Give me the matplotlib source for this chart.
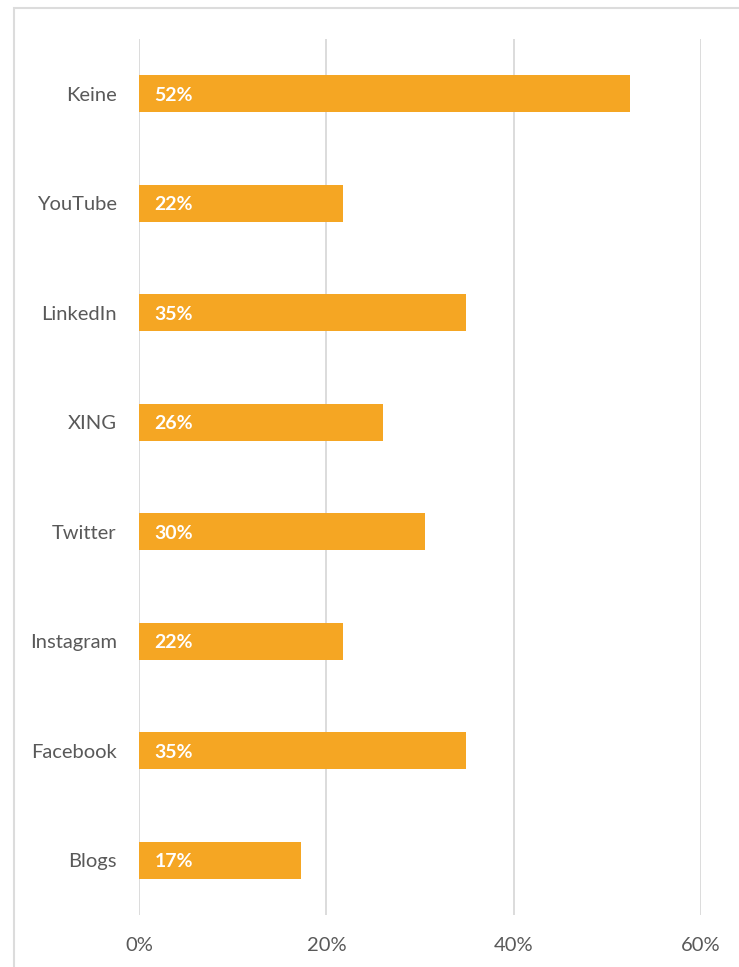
import matplotlib.pyplot as plt
from matplotlib.patches import Rectangle

categories = ["Keine", "YouTube", "LinkedIn", "XING", "Twitter", "Instagram", "Facebook", "Blogs"]
values = [52.4, 21.8, 34.9, 26.1, 30.5, 21.8, 34.9, 17.3]
labels = ["52%", "22%", "35%", "26%", "30%", "22%", "35%", "17%"]
xticks = [0, 20, 40, 60]
xtick_labels = ["0%", "20%", "40%", "60%"]

plt.rcParams['font.family'] = ['Lato', 'DejaVu Sans']

fig = plt.figure(figsize=(7.39, 9.67), dpi=100)
ax = fig.add_axes([139 / 739, 1 - 915 / 967, (701 - 139) / 739, (915 - 39) / 967])

pos = list(range(len(categories)))
ax.barh(pos, values, height=0.34, color="#F5A623", zorder=2)
for p, lab in zip(pos, labels):
    ax.annotate(lab, (0, p), xytext=(11, -1), textcoords="offset points",
                va="center", ha="left", color="white", fontsize=14, fontweight="bold")

ax.set_ylim(len(categories) - 0.5, -0.5)
ax.set_xlim(0, 60)
ax.set_yticks(pos)
ax.set_yticklabels(categories)
ax.set_xticks(xticks)
ax.set_xticklabels(xtick_labels)
ax.tick_params(length=0, labelsize=14.5, labelcolor="#595959")
ax.tick_params(axis="y", pad=16)
ax.tick_params(axis="x", pad=16)
ax.grid(axis="x", color="#dcdcdc", linewidth=1.4, zorder=0)
for s in ax.spines.values():
    s.set_visible(False)

# light frame round the chart area
fig.patches.append(Rectangle((14 / 739, -0.1), 1.2, 1 - 8 / 967 + 0.1, transform=fig.transFigure,
                             fill=False, edgecolor="#dcdcdc", linewidth=1.5))

fig.savefig("out.png", dpi=100)
